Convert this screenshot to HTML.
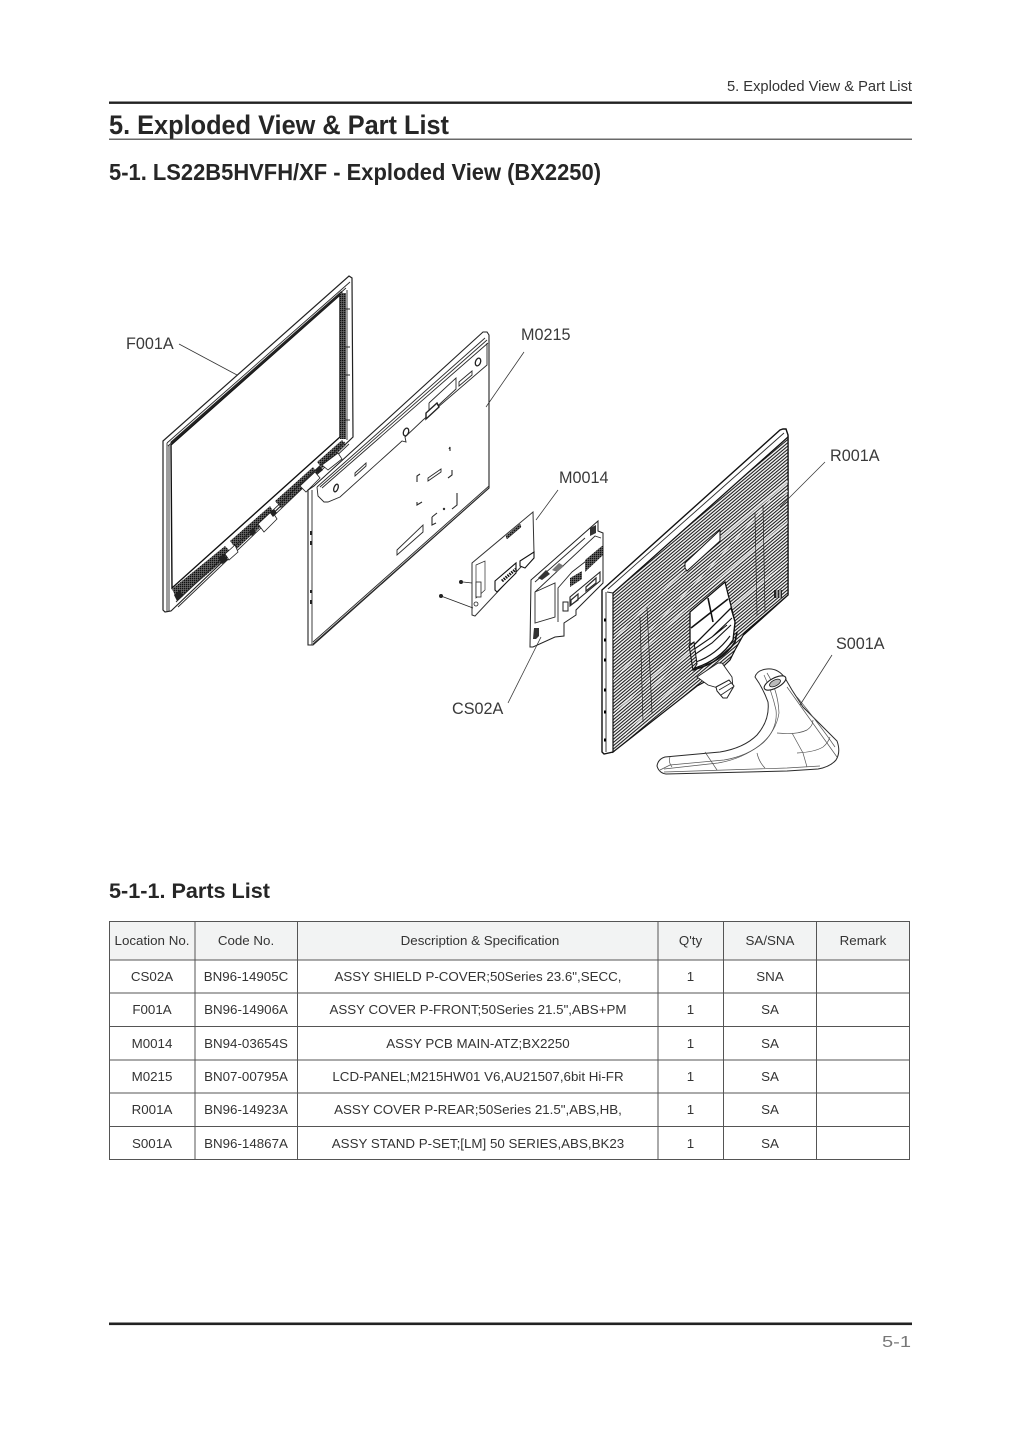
<!DOCTYPE html>
<html lang="en">
<head>
<meta charset="utf-8">
<title>5. Exploded View &amp; Part List</title>
<style>
html,body{margin:0;padding:0;background:#fff}
svg{display:block}
text{font-family:"Liberation Sans",sans-serif;fill:#333}
.cell{font-size:13.35px;text-anchor:middle}
.lbl{font-size:16.2px;fill:#3a3a3a}
.t{fill:none;stroke:#2a2a2a;stroke-width:.9}
.l{fill:none;stroke:#555;stroke-width:.7}
</style>
</head>
<body>
<svg xmlns="http://www.w3.org/2000/svg" width="1021" height="1432" viewBox="0 0 1021 1432">
<defs>
<pattern id="h" width="2.5" height="2.5" patternUnits="userSpaceOnUse" patternTransform="rotate(-40)">
<rect width="2.5" height="2.5" fill="#f4f4f4"/>
<rect width="2.5" height="1.05" fill="#1c1c1c"/>
</pattern>
<pattern id="v" width="2" height="2" patternUnits="userSpaceOnUse">
<rect width="2" height="2" fill="#777"/>
<rect width="1.4" height="1.4" fill="#111"/>
</pattern>
<clipPath id="rc"><path d="M613 593 L788 437 V595 L745 632 L735 650 L730 660 L710 679 L697 686 L613 752Z"/></clipPath>
</defs>
<rect width="1021" height="1432" fill="#fff"/>

<!-- Header -->
<text x="912" y="91" font-size="14.7" text-anchor="end" style="fill:#333">5. Exploded View &amp; Part List</text>
<rect x="109" y="101.5" width="803" height="2.4" fill="#222"/>
<text x="109" y="134" font-size="27" font-weight="700" textLength="340" lengthAdjust="spacingAndGlyphs" style="fill:#262626">5. Exploded View &amp; Part List</text>
<rect x="109" y="138.6" width="803" height="1.2" fill="#444"/>
<text x="109" y="180" font-size="23" font-weight="700" textLength="492" lengthAdjust="spacingAndGlyphs" style="fill:#262626">5-1. LS22B5HVFH/XF - Exploded View (BX2250)</text>

<!-- Front bezel F001A -->
<path d="M163 441 L349 276 L352 278 L353 437 L171 611 L165 612 L163 610Z" fill="#fff" stroke="#222" stroke-width="1.2"/>
<path d="M167 443 L350 282 M168 446 L346 288 M167 443 V611 M169 445 V611" class="t"/>
<path d="M171 445 L340 295 V437 L172 588Z" fill="#fff" stroke="#111" stroke-width="1.4"/>
<path d="M171 443 L342 292" stroke="#222" stroke-width="2.4" fill="none"/>
<path d="M340 293 h6 v146 h-6Z" fill="url(#v)"/>
<path d="M347 290 V440 M345 309 h5 M345 347 h5 M345 375 h5 M345 420 h5" class="t"/>
<path d="M172 589 L225 546 L232 553 L177 600Z M230 541 L270 506 L275 514 L236 549Z M275 501 L313 467 L318 474 L281 508Z M317 462 L342 440 L346 445 L322 468Z" fill="url(#v)"/>
<path d="M176 602 L345 442 M178 607 L349 444" class="t"/>
<path d="M225 554 L235 545 L238 552 L229 560Z M258 524 L272 511 L277 519 L264 532Z M300 486 L315 472 L320 478 L306 492Z M322 465 L338 453 L342 459 L328 470Z" fill="#fff" stroke="#222" stroke-width=".8"/>
<path d="M218 558 l6 -4 l4 6 l-6 4Z M249 532 l4 -4 l3 4 l-4 4Z M270 513 l4 -4 l3 4 l-4 4Z M315 470 l5 -4 l3 4 l-5 4Z M174 595 l6 -5 l3 6 l-6 5Z" fill="#222"/>

<!-- LCD panel M0215 -->
<path d="M308 490 L314 486 L483 332 L487 332 L489 335 V488 L313 645 L308 645Z" fill="#fff" stroke="#222" stroke-width="1.1"/>
<path d="M312 490 V645 M489 486 L313 642 M489 488 L313 644" class="t"/>
<path d="M317 487 L485 338 M320 487 L487 340 M322 488 L488 343" class="t"/>
<path d="M487 343 V365 L423 420 L405 437 L406 442 L402 441 L340 497 L328 502 L324 502 L318 496 L317 487" class="t"/>
<path d="M429 403 V414 M429 403 L456 378 V389 L429 414 M459 386 L472 375 V371 L459 382Z" class="t"/>
<path d="M426 419 L439 407 L437 403 L426 413Z" fill="#fff" stroke="#222" stroke-width="1.4"/>
<ellipse cx="478" cy="362" rx="2.5" ry="4" transform="rotate(20 478 362)" fill="none" stroke="#222" stroke-width="1.3"/>
<ellipse cx="406" cy="432" rx="2.5" ry="4" transform="rotate(20 406 432)" fill="none" stroke="#222" stroke-width="1.3"/>
<ellipse cx="336" cy="488" rx="2" ry="4" transform="rotate(20 336 488)" fill="none" stroke="#222" stroke-width="1.3"/>
<path d="M355 473 L366 463 V466 L355 476Z M428 478 L441 469 V472 L428 481Z M397 550 L423 525 V532 L397 555Z" class="t"/>
<path d="M449 449 L450 447 V451 M417 482 V476 L420 474 M452 470 V475 L448 478 M417 502 V505 L422 502 M457 493 V505 L452 509 M432 517 V525 L436 523 M432 517 L437 513" class="t" style="stroke-width:1.1"/>
<circle cx="444" cy="509" r="1.2" fill="#333"/>
<path d="M310 531 h2 v4 h-2Z M310 541 h2 v4 h-2Z M310 590 h2 v3 h-2Z M310 600 h2 v4 h-2Z" fill="#222"/>

<!-- Main board M0014 -->
<path d="M472 563 L533 512 L534 553 L475 616 L472 615Z" fill="#fff" stroke="#333" stroke-width="1"/>
<path d="M506 536 L520 524 L521 527 L507 539Z" fill="url(#v)" stroke="#222" stroke-width=".5"/>
<path d="M476 565 L485 561 V590 L476 598Z" class="t" style="stroke-width:.7"/>
<rect x="476" y="582" width="5" height="15" fill="#fff" stroke="#222" stroke-width=".8"/>
<circle cx="476" cy="604" r="2" fill="#fff" stroke="#222" stroke-width=".8"/>
<path d="M495 581 L516 563 V573 L497 592 L495 590Z M520 561 L534 552 V558 L525 568 L520 566Z" fill="#fff" stroke="#111" stroke-width="1.1"/>
<path d="M502 581 L516 569" stroke="#111" stroke-width="3" stroke-dasharray="1.5 1"/>
<path d="M463 582 L472 583 M441 596 L473 608" stroke="#222" stroke-width=".8" fill="none"/>
<circle cx="461" cy="582" r="2" fill="#222"/><circle cx="441" cy="596" r="2" fill="#222"/>

<!-- Shield CS02A -->
<path d="M531 580 L598 521 V531 L603 533 V583 L576 610 V615 L564 623 V636 L555 637 L533 647 L530 647Z" fill="#fff" stroke="#222" stroke-width="1"/>
<path d="M535 582 L585 538 M535 592 L595 536 L601 538 M535 592 L555 583 V617 L535 623 Z M558 622 L558 588 L572 572 L590 558" class="t"/>
<path d="M570 578 l12 -7 v8 l-12 8Z M585 560 L603 545 V555 L585 572Z" fill="url(#v)"/>
<path d="M570 597 L600 572 V581 L570 606Z" fill="#fff" stroke="#222" stroke-width="1.1"/>
<path d="M571 600 l7 -6 v6 l-7 5Z M586 587 l10 -9 v5 l-10 8Z" class="t" style="stroke-width:1.2"/>
<rect x="563" y="602" width="5" height="9" fill="#fff" stroke="#222"/>
<path d="M534 628 h5 v8 l-3 3 h-3Z M590 528 l6 -3 v8 l-6 3Z M538 578 l8 -8 4 4 -8 6Z" fill="#333"/>
<path d="M552 570 l7 -7 5 3 -7 6Z" fill="#777"/>

<!-- Rear cover R001A -->
<path d="M602 590 L780 430 L783 429 L786 429 L788 435 V595 L613 752 L604 754 L602 752Z" fill="#fff" stroke="#111" stroke-width="1.4"/>
<path d="M606 592 V752 M613 593 L788 437 M607 592 L613 593 M608 589 L784 433" class="t"/>
<path d="M613 593 L788 437 V595 L745 632 L735 650 L730 660 L710 679 L697 686 L613 752Z" fill="url(#h)" stroke="#111" stroke-width="1.2"/>
<g clip-path="url(#rc)" fill="none" stroke="#fff" stroke-width=".9" opacity=".75">
<path d="M613 640 Q680 570 790 480"/><path d="M613 680 Q690 600 790 520"/><path d="M613 715 Q700 630 790 560"/><path d="M640 640 Q710 570 770 500"/><path d="M640 700 Q690 650 720 625"/><path d="M625 735 Q670 690 700 665"/><path d="M735 540 Q760 510 790 490"/>
</g>
<path d="M604 620 h2 M604 640 h2 M604 660 h2 M604 690 h2 M604 712 h2 M604 740 h2" stroke="#000" stroke-width="3"/>
<path d="M685 563 L720 530 V541 L687 571 L685 568Z" fill="#fff" stroke="#111" stroke-width="1"/>
<path d="M755 513 L757 615 M763 505 L765 612 M640 617 L643 722 M647 607 L652 713" stroke="#222" stroke-width=".7" fill="none"/>
<!-- vent grid & lower pocket -->
<path d="M690 612 L725 582 L735 622 L733 640 Q720 660 693 668 L690 650Z" fill="#fff" stroke="#111" stroke-width="1.3"/>
<path d="M692 647 L731 608 L735 622 L733 640 Q720 660 695 668Z" fill="#fff" stroke="#111" stroke-width="1.3"/>
<path d="M708 598 L713 622 M691 628 L728 599" stroke="#111" stroke-width="1.6" fill="none"/>
<path d="M693 650 L712 637 L732 618 M694 655 L712 643 L731 625 M696 662 Q716 655 730 636 M712 637 L727 625" stroke="#111" stroke-width="1.1" fill="none"/>
<path d="M689 645 L694 642 L697 664 L693 670Z" fill="url(#h)" stroke="#111" stroke-width="1"/>
<path d="M693 670 Q722 662 735 642 L737 632" fill="none" stroke="#111" stroke-width="1.6"/>
<rect x="774" y="590" width="8" height="8" fill="#111" opacity=".85"/>
<path d="M777 590 v8 M780 590 v8" stroke="#fff"/>
<!-- Neck -->
<path d="M697 677 L718 663 L722 663 L732 677 L733 688 L723 697 L718 688 L708 685Z" fill="#fff" stroke="#222" stroke-width=".9"/>
<path d="M716 687 L729 680 L734 686 L727 698 L723 698 L717 691Z" fill="#fff" stroke="#222" stroke-width="1"/>
<path d="M719 690 L731 683 M721 695 L733 687" class="t"/>

<!-- Stand S001A -->
<path d="M755 677 Q757 670 767 669 Q778 668 785 678 L792 690 L803 707 Q822 726 837 741 Q841 752 836 760 Q830 767 818 769 L787 771 L666 774 Q659 773 657 766 Q658 759 665 757 L720 752 Q744 748 757 735 Q770 720 768 702 Q763 688 755 677Z" fill="#fff" stroke="#2a2a2a" stroke-width="1"/>
<path d="M764 675 Q772 692 776 710 Q778 728 764 742 Q748 756 724 760 L670 765 L660 770" class="l"/>
<path d="M767 673 Q778 690 779 713 Q776 732 760 745 Q742 759 718 763 L664 769" class="l"/>
<path d="M664 772 L787 768 L820 766 M670 757 Q668 762 672 767 M705 752 L717 770" class="l"/>
<path d="M777 733 Q797 735 807 730 Q813 726 813 720 M757 753 Q759 762 765 768 M807 767 L803 753 L792 733 M797 753 Q815 752 823 747 Q828 743 830 737 M787 687 L837 757 M797 697 Q820 725 835 747" class="l"/>
<ellipse cx="775" cy="683" rx="12" ry="5" transform="rotate(-28 775 683)" fill="#fff" stroke="#222" stroke-width="1.1"/>
<ellipse cx="775" cy="683" rx="6" ry="3" transform="rotate(-28 775 683)" fill="#bbb" stroke="#222" stroke-width=".8"/>

<!-- Leaders -->
<g fill="none" stroke="#333" stroke-width=".75">
<path d="M179 344 L237 375"/>
<path d="M524 352 L486 407"/>
<path d="M558 490 L536 520"/>
<path d="M825 462 L780 507"/>
<path d="M832 655 L800 705"/>
<path d="M508 703 L541 637"/>
</g>
<text class="lbl" x="126" y="349">F001A</text>
<text class="lbl" x="521" y="340">M0215</text>
<text class="lbl" x="559" y="483">M0014</text>
<text class="lbl" x="830" y="461">R001A</text>
<text class="lbl" x="836" y="649">S001A</text>
<text class="lbl" x="452" y="714">CS02A</text>

<!-- Parts list -->
<text x="109" y="898" font-size="21.4" font-weight="700" textLength="161" lengthAdjust="spacingAndGlyphs" style="fill:#262626">5-1-1. Parts List</text>
<rect x="109.5" y="921.5" width="800" height="38" fill="#f2f3f3"/>
<g stroke="#555" stroke-width="1" fill="none">
<rect x="109.5" y="921.5" width="800" height="238"/>
<path d="M109 960H910M109 993H910M109 1026.500H910M109 1060H910M109 1093H910M109 1126.500H910"/>
<path d="M195 921V1159M297.500 921V1159M658 921V1159M723.500 921V1159M816.500 921V1159"/>
</g>
<g>
<text class="cell" x="152" y="945">Location No.</text><text class="cell" x="246" y="945">Code No.</text><text class="cell" x="480" y="945">Description &amp; Specification</text><text class="cell" x="690.500" y="945">Q'ty</text><text class="cell" x="770" y="945">SA/SNA</text><text class="cell" x="863" y="945">Remark</text>
<text class="cell" x="152" y="981">CS02A</text><text class="cell" x="246" y="981">BN96-14905C</text><text class="cell" x="478" y="981">ASSY SHIELD P-COVER;50Series 23.6",SECC,</text><text class="cell" x="690.500" y="981">1</text><text class="cell" x="770" y="981">SNA</text>
<text class="cell" x="152" y="1014">F001A</text><text class="cell" x="246" y="1014">BN96-14906A</text><text class="cell" x="478" y="1014">ASSY COVER P-FRONT;50Series 21.5",ABS+PM</text><text class="cell" x="690.500" y="1014">1</text><text class="cell" x="770" y="1014">SA</text>
<text class="cell" x="152" y="1048">M0014</text><text class="cell" x="246" y="1048">BN94-03654S</text><text class="cell" x="478" y="1048">ASSY PCB MAIN-ATZ;BX2250</text><text class="cell" x="690.500" y="1048">1</text><text class="cell" x="770" y="1048">SA</text>
<text class="cell" x="152" y="1081">M0215</text><text class="cell" x="246" y="1081">BN07-00795A</text><text class="cell" x="478" y="1081">LCD-PANEL;M215HW01 V6,AU21507,6bit Hi-FR</text><text class="cell" x="690.500" y="1081">1</text><text class="cell" x="770" y="1081">SA</text>
<text class="cell" x="152" y="1114">R001A</text><text class="cell" x="246" y="1114">BN96-14923A</text><text class="cell" x="478" y="1114">ASSY COVER P-REAR;50Series 21.5",ABS,HB,</text><text class="cell" x="690.500" y="1114">1</text><text class="cell" x="770" y="1114">SA</text>
<text class="cell" x="152" y="1148">S001A</text><text class="cell" x="246" y="1148">BN96-14867A</text><text class="cell" x="478" y="1148">ASSY STAND P-SET;[LM] 50 SERIES,ABS,BK23</text><text class="cell" x="690.500" y="1148">1</text><text class="cell" x="770" y="1148">SA</text>
</g>

<!-- Footer -->
<rect x="109" y="1322.500" width="803" height="2.600" fill="#222"/>
<text x="911" y="1347" font-size="16" text-anchor="end" textLength="29" lengthAdjust="spacingAndGlyphs" style="fill:#777">5-1</text>
</svg>
</body>
</html>
